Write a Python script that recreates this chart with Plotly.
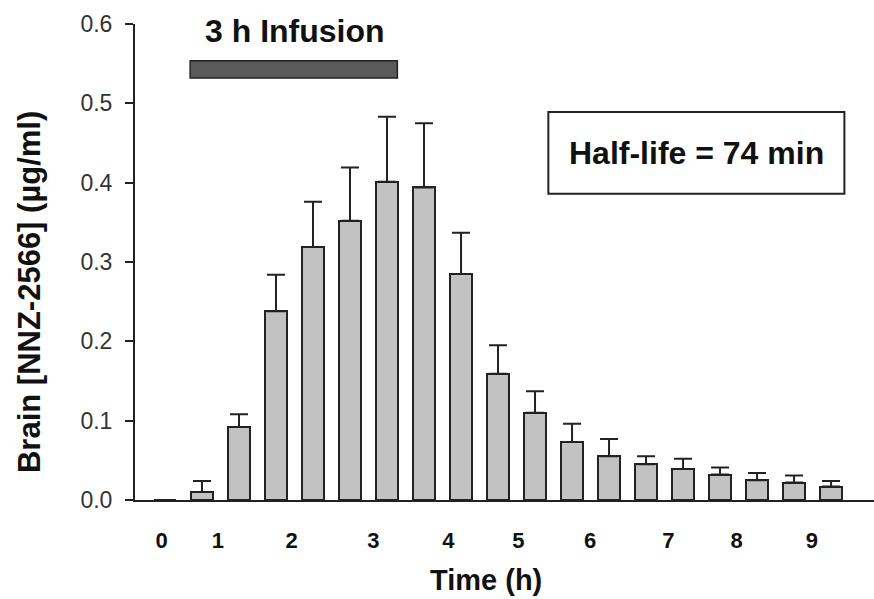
import plotly.graph_objects as go

# Sampling times (h) and brain NNZ-2566 concentrations (ug/ml), mean + SEM
time_h = [0.0, 0.5, 1.0, 1.5, 2.0, 2.5, 3.0, 3.5, 4.0, 4.5,
          5.0, 5.5, 6.0, 6.5, 7.0, 7.5, 8.0, 8.5, 9.0]
conc_mean = [0.000, 0.010, 0.092, 0.238, 0.319, 0.352, 0.401, 0.394, 0.285, 0.159,
             0.110, 0.073, 0.055, 0.045, 0.039, 0.032, 0.025, 0.022, 0.017]
conc_sem = [0.000, 0.014, 0.016, 0.046, 0.057, 0.067, 0.082, 0.081, 0.052, 0.036,
            0.027, 0.023, 0.022, 0.010, 0.013, 0.009, 0.009, 0.009, 0.007]

# Hour labels along the time axis and where they sit
hour_labels = ["0", "1", "2", "3", "4", "5", "6", "7", "8", "9"]
hour_label_pos = [-0.045, 0.716, 1.712, 2.815, 3.828, 4.774, 5.743, 6.802, 7.725, 8.74]

y_ticks = [0.0, 0.1, 0.2, 0.3, 0.4, 0.5, 0.6]

# Infusion period bar and half-life note
infusion_start, infusion_end = 0.34, 3.14
half_life_text = "Half-life = 74 min"
infusion_text = "3 h Infusion"

FONT = "Liberation Sans, Arial, Helvetica, sans-serif"
INK = "#222222"

fig = go.Figure()
fig.add_trace(go.Bar(
    x=time_h,
    y=conc_mean,
    width=0.29,
    marker=dict(color="#c2c2c2", line=dict(color=INK, width=2)),
    error_y=dict(
        type="data",
        symmetric=False,
        array=conc_sem,
        arrayminus=[0] * len(conc_sem),
        color=INK,
        thickness=2,
        width=9,
    ),
    showlegend=False,
))

# Infusion bar
fig.add_shape(
    type="rect", xref="x", yref="y",
    x0=infusion_start, x1=infusion_end, y0=0.532, y1=0.5536,
    fillcolor="#5a5a5a", line=dict(color=INK, width=1.5),
)
fig.add_annotation(
    x=(infusion_start + infusion_end) / 2 + 0.02, y=0.591, xref="x", yref="y",
    text=infusion_text, showarrow=False,
    font=dict(family=FONT, size=32, color="#111111", weight="bold"),
    xanchor="center", yanchor="middle",
)

# Half-life box
fig.add_shape(
    type="rect", xref="x", yref="y",
    x0=5.18, x1=9.18, y0=0.386, y1=0.489,
    fillcolor="white", line=dict(color=INK, width=2),
)
fig.add_annotation(
    x=7.18, y=0.4375, xref="x", yref="y",
    text=half_life_text, showarrow=False,
    font=dict(family=FONT, size=32, color="#111111", weight="bold"),
    xanchor="center", yanchor="middle",
)

# Axis titles
fig.add_annotation(
    x=-0.142, y=0.437, xref="paper", yref="paper",
    text="Brain [NNZ-2566] (µg/ml)", textangle=-90, showarrow=False,
    font=dict(family=FONT, size=31, color="#111111", weight="bold"),
    xanchor="center", yanchor="middle",
)
fig.add_annotation(
    x=0.475, y=-0.168, xref="paper", yref="paper",
    text="Time (h)", showarrow=False,
    font=dict(family=FONT, size=29, color="#111111", weight="bold"),
    xanchor="center", yanchor="middle",
)

fig.update_layout(
    width=874, height=599,
    margin=dict(l=135, r=0, t=24, b=99),
    paper_bgcolor="white",
    plot_bgcolor="white",
    bargap=0,
    xaxis=dict(
        range=[-0.405, 9.58],
        tickmode="array",
        tickvals=hour_label_pos,
        ticktext=hour_labels,
        ticks="",
        showgrid=False,
        zeroline=False,
        showline=True,
        linecolor=INK,
        linewidth=2,
        tickfont=dict(family=FONT, size=22, color="#111111", weight="bold"),
        ticklabelstandoff=20,
    ),
    yaxis=dict(
        range=[0, 0.6],
        tickmode="array",
        tickvals=y_ticks,
        ticktext=[f"{v:.1f}" for v in y_ticks],
        ticks="outside",
        ticklen=8,
        tickwidth=2,
        tickcolor=INK,
        showgrid=False,
        zeroline=False,
        showline=True,
        linecolor=INK,
        linewidth=2,
        tickfont=dict(family=FONT, size=23, color="#333333"),
        ticklabelstandoff=8,
    ),
)

fig.write_html("out.html")
